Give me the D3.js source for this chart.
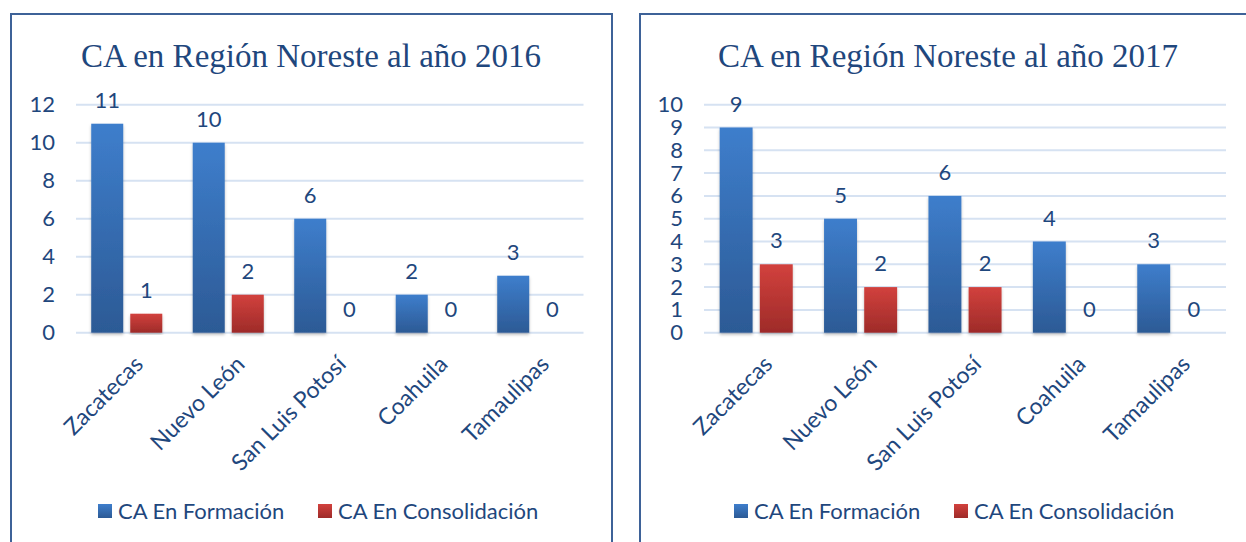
<!DOCTYPE html>
<html>
<head>
<meta charset="utf-8">
<script src="https://cdn.jsdelivr.net/npm/d3@7"></script>
<style>
  body { margin: 0; background: #fff; }
  svg { display: block; }
</style>
</head>
<body>
<div id="chart"></div>
<script>
const width = 1246;
const height = 542;

const categories = ["Zacatecas", "Nuevo León", "San Luis Potosí", "Coahuila", "Tamaulipas"];
const seriesNames = ["CA En Formación", "CA En Consolidación"];

const formacion2016 = [11, 10, 6, 2, 3];
const consolidacion2016 = [1, 2, 0, 0, 0];
const formacion2017 = [9, 5, 6, 4, 3];
const consolidacion2017 = [3, 2, 2, 0, 0];

const ticks2016 = [0, 2, 4, 6, 8, 10, 12];
const ticks2017 = [0, 1, 2, 3, 4, 5, 6, 7, 8, 9, 10];

const titles = ["CA en Región Noreste al año 2016", "CA en Región Noreste al año 2017"];

const textColor = "#1F477D";
const gridColor = "#D6E2F2";
const borderColor = "#3E6298";

const svg = d3.select("#chart")
    .append("svg")
    .attr("width", width)
    .attr("height", height)
    .attr("viewBox", [0, 0, width, height]);

// gradients for the bars
const defs = svg.append("defs");
const grads = [["gradBlue", "#3E7ECC", "#2C5A95"], ["gradRed", "#D2413D", "#9E2B29"]];
grads.forEach(([id, top, bottom]) => {
    const g = defs.append("linearGradient")
        .attr("id", id)
        .attr("x1", 0).attr("y1", 0).attr("x2", 0).attr("y2", 1);
    g.append("stop").attr("offset", "0%").attr("stop-color", top);
    g.append("stop").attr("offset", "100%").attr("stop-color", bottom);
});
defs.append("filter")
    .attr("id", "shadow")
    .attr("x", "-20%").attr("y", "-5%").attr("width", "140%").attr("height", "115%")
    .append("feDropShadow")
    .attr("dx", 0).attr("dy", 2).attr("stdDeviation", 1.5)
    .attr("flood-color", "#000").attr("flood-opacity", 0.25);

const fills = ["url(#gradBlue)", "url(#gradRed)"];

// one panel = one grouped bar chart
const drawPanel = (cfg) => {
    const g = svg.append("g");

    // frame
    g.append("rect")
        .attr("x", cfg.frame[0])
        .attr("y", 14)
        .attr("width", cfg.frame[1] - cfg.frame[0])
        .attr("height", 560)
        .attr("fill", "none")
        .attr("stroke", borderColor)
        .attr("stroke-width", 2);

    g.append("text")
        .attr("x", cfg.titleX)
        .attr("y", 67)
        .attr("text-anchor", "middle")
        .attr("fill", textColor)
        .attr("font-family", "'Liberation Serif', serif")
        .attr("font-size", 33)
        .text(cfg.title);

    const x0 = d3.scaleBand()
        .domain(categories)
        .range([cfg.left, cfg.right])
        .paddingInner(0.3)
        .paddingOuter(0.15);

    const x1 = d3.scaleBand()
        .domain(seriesNames)
        .range([0, x0.bandwidth()])
        .paddingInner(0.18);

    const y = d3.scaleLinear()
        .domain([0, d3.max(cfg.ticks)])
        .range([332.7, 104.7]);

    // gridlines
    g.append("g")
        .selectAll("line")
        .data(cfg.ticks)
        .join("line")
        .attr("x1", cfg.left)
        .attr("x2", cfg.right)
        .attr("y1", d => y(d))
        .attr("y2", d => y(d))
        .attr("stroke", gridColor)
        .attr("stroke-width", 2);

    // y axis labels
    const yAxis = g.append("g")
        .attr("transform", `translate(${cfg.left - 21},0)`)
        .call(d3.axisLeft(y).tickValues(cfg.ticks).tickSize(0).tickPadding(0));
    yAxis.select(".domain").remove();
    yAxis.selectAll("text")
        .attr("fill", textColor)
        .attr("font-family", "Lato, sans-serif")
        .attr("font-size", 22);

    const rows = categories.map((c, i) => ({
        cat: c,
        values: seriesNames.map((s, j) => ({ series: s, j, value: cfg.values[j][i] }))
    }));

    const groups = g.append("g")
        .selectAll("g")
        .data(rows)
        .join("g")
        .attr("transform", d => `translate(${x0(d.cat)},0)`);

    groups.selectAll("rect")
        .data(d => d.values.filter(v => v.value > 0))
        .join("rect")
        .attr("x", d => x1(d.series))
        .attr("y", d => y(d.value))
        .attr("width", x1.bandwidth())
        .attr("height", d => y(0) - y(d.value))
        .attr("fill", d => fills[d.j])
        .attr("filter", "url(#shadow)");

    groups.selectAll("text")
        .data(d => d.values)
        .join("text")
        .attr("x", d => x1(d.series) + x1.bandwidth() / 2)
        .attr("y", d => y(d.value) - 16)
        .attr("text-anchor", "middle")
        .attr("fill", textColor)
        .attr("font-family", "Lato, sans-serif")
        .attr("font-size", 22)
        .text(d => d.value);

    // category labels, rotated
    g.append("g")
        .selectAll("text")
        .data(categories)
        .join("text")
        .attr("transform", d => `translate(${x0(d) + x0.bandwidth() / 2 + 6},354) rotate(-45)`)
        .attr("dy", "0.72em")
        .attr("text-anchor", "end")
        .attr("fill", textColor)
        .attr("font-family", "Lato, sans-serif")
        .attr("font-size", 23)
        .text(d => d);

    // legend
    const legend = g.append("g")
        .selectAll("g")
        .data(seriesNames)
        .join("g")
        .attr("transform", (d, i) => `translate(${cfg.legendX[i]},504)`);
    legend.append("rect")
        .attr("width", 14)
        .attr("height", 14)
        .attr("fill", (d, i) => fills[i]);
    legend.append("text")
        .attr("x", 20)
        .attr("y", 7)
        .attr("dy", "0.35em")
        .attr("fill", textColor)
        .attr("font-family", "Lato, sans-serif")
        .attr("font-size", 22)
        .text(d => d);
};

drawPanel({
    frame: [11, 612],
    title: titles[0],
    titleX: 311,
    left: 76,
    right: 583.5,
    ticks: ticks2016,
    values: [formacion2016, consolidacion2016],
    legendX: [98, 318]
});

drawPanel({
    frame: [640, 1260],
    title: titles[1],
    titleX: 948,
    left: 704,
    right: 1226,
    ticks: ticks2017,
    values: [formacion2017, consolidacion2017],
    legendX: [734, 954]
});
</script>
</body>
</html>
